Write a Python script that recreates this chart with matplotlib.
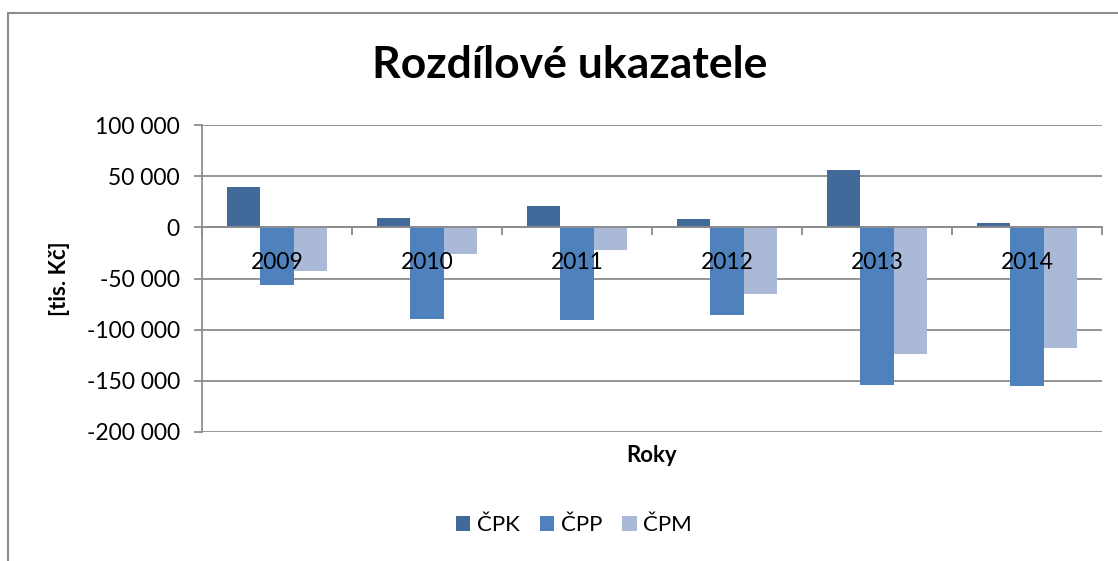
import matplotlib
matplotlib.use("Agg")
import matplotlib.pyplot as plt
from matplotlib.patches import Rectangle
from matplotlib.ticker import FuncFormatter
import numpy as np

years = ["2009", "2010", "2011", "2012", "2013", "2014"]
series_names = ["ČPK", "ČPP", "ČPM"]
cpk = [39700, 9400, 21100, 8100, 56100, 4200]
cpp = [-56500, -89700, -91000, -85800, -154000, -155300]
cpm = [-42500, -26400, -21900, -65300, -123700, -117800]
colors = ["#41699A", "#4F81BD", "#AAB9D7"]
yticks = [100000, 50000, 0, -50000, -100000, -150000, -200000]

plt.rcParams['font.family'] = ['Lato', 'DejaVu Sans']

fig = plt.figure(figsize=(11.18, 5.61), dpi=100)
ax = fig.add_axes([202/1118, 1-432/561, 900/1118, 307/561])

x = np.arange(len(years))
w = 1/4.5
for i, (vals, c, name) in enumerate(zip([cpk, cpp, cpm], colors, series_names)):
    ax.bar(x + (i-1)*w, vals, width=w, color=c, label=name, zorder=1)

ax.set_xlim(-0.5, len(years)-0.5)
ax.set_ylim(-200000, 100000)
ax.set_yticks(yticks)
ax.yaxis.set_major_formatter(FuncFormatter(lambda v, p: f"{int(v):,}".replace(",", " ")))
for t in yticks:
    ax.axhline(t, color="#8C8C8C", lw=1.3, zorder=0.5)

ax.spines['top'].set_visible(False)
ax.spines['right'].set_visible(False)
ax.spines['left'].set_color("#8C8C8C")
ax.spines['left'].set_linewidth(1.3)
ax.spines['bottom'].set_position(('data', 0))
ax.spines['bottom'].set_color("#8C8C8C")
ax.spines['bottom'].set_linewidth(1.3)

ax.set_xticks(x)
ax.set_xticklabels(years)
ax.set_xticks(np.arange(len(years)+1) - 0.5, minor=True)
ax.tick_params(axis='x', which='major', length=0, pad=18, labelsize=16.5)
ax.tick_params(axis='x', which='minor', length=6, width=1.3, color="#8C8C8C", direction='out')
ax.tick_params(axis='y', length=6, width=1.3, color="#8C8C8C", labelsize=16.5, pad=10)

ax.set_ylabel("[tis. Kč]", fontsize=16, fontweight='bold', labelpad=12)
fig.text(652/1118, 1-456/561, "Roky", fontsize=16, fontweight='bold', ha='center', va='center')
fig.text(570/1118, 1-65/561, "Rozdílové ukazatele", fontsize=32, fontweight='bold', ha='center', va='center')

fig.legend(loc='center', bbox_to_anchor=(574/1118, 1-525/561), ncol=3, frameon=False,
           fontsize=16, handlelength=0.65, handleheight=0.65, handletextpad=0.3, columnspacing=0.9)

fig.patches.append(Rectangle((8/1118, -0.05), 1.2, 1-13/561+0.05, transform=fig.transFigure,
                             fill=False, edgecolor="#8C8C8C", lw=1.5))

fig.savefig("out.png", dpi=100)
